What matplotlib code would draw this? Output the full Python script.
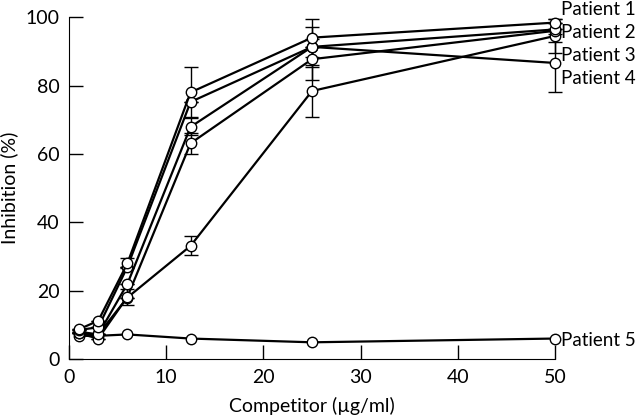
import matplotlib.pyplot as plt
import numpy as np

# competitor concentrations (ug/ml)
conc = [1, 3, 6, 12.5, 25, 50]

# inhibition (%)
s1 = [8.7, 11.2, 28.0, 78.0, 94.0, 98.4]
s2 = [8.5, 9.3, 27.0, 75.2, 91.3, 86.6]
s3 = [7.5, 7.2, 22.0, 67.9, 91.3, 96.4]
s4 = [7.5, 6.0, 18.2, 63.1, 87.7, 96.0]
s5 = [8.0, 7.2, 18.0, 33.1, 78.4, 94.5]
p5 = [6.8, 6.8, 7.2, 6.0, 4.9, 6.0]

# error bars (SD)
e1 = [0, 0, 1.5, 7.3, 5.6, 0]
e2 = [0, 0, 0, 0, 5.8, 8.4]
e3 = [0, 0, 0, 2.5, 0, 0]
e4 = [0, 0, 2.4, 3.0, 6.0, 3.4]
e5 = [0, 0, 0, 2.8, 7.5, 5.1]

labels = ['Patient 1', 'Patient 2', 'Patient 3', 'Patient 4', 'Patient 5']
label_y = [102.2, 95.5, 88.9, 82.0, 5.3]

plt.rcParams['font.family'] = ['Lato', 'DejaVu Sans']

fig = plt.figure(figsize=(6.4, 4.18), dpi=100)
ax = fig.add_axes([0.108, 0.141, 0.759, 0.818])

for ys, es in [(s5, e5), (s4, e4), (s3, e3), (s2, e2), (s1, e1)]:
    ax.errorbar(conc, ys, yerr=es, fmt='-o', color='black', lw=1.6,
                ms=7.5, mfc='white', mec='black', mew=1.0,
                elinewidth=1.0, capsize=5, capthick=1.0, clip_on=False)
ax.plot(conc, p5, '-o', color='black', lw=1.6, ms=7.5, mfc='white',
        mec='black', mew=1.0, clip_on=False)

for lab, yy in zip(labels, label_y):
    ax.text(50.6, yy, lab, fontsize=13.5, va='center', ha='left')

ax.set_xlim(0, 50)
ax.set_ylim(0, 100)
ax.set_xticks(range(0, 51, 10))
ax.set_yticks(range(0, 101, 20))
ax.spines['top'].set_visible(False)
ax.spines['right'].set_visible(False)
ax.tick_params(direction='in', length=10, width=1, labelsize=14, pad=7)
ax.set_xlabel('Competitor (\u00b5g/ml)', fontsize=14, labelpad=8)
ax.set_ylabel('Inhibition (%)', fontsize=14, labelpad=5)

fig.savefig('out.png', dpi=100)
